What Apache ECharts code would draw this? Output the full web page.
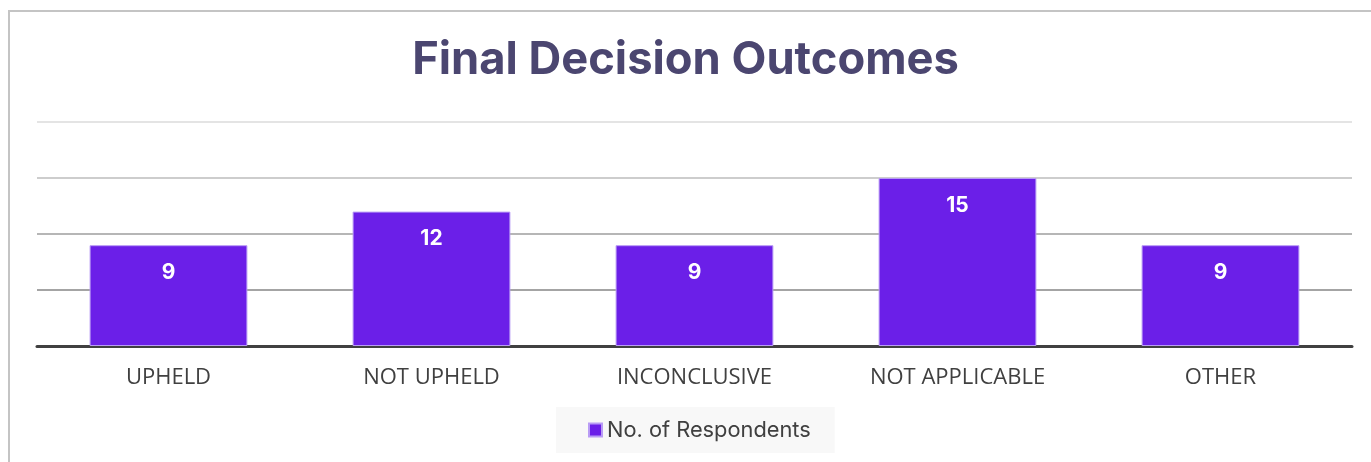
<!DOCTYPE html>
<html>
<head>
<meta charset="utf-8">
<script src="https://cdn.jsdelivr.net/npm/echarts@6/dist/echarts.min.js"></script>
<style>
  html, body { margin: 0; padding: 0; background: #ffffff; }
  #frame { position: absolute; left: 8px; top: 10px; width: 1363px; height: 452px;
           border-left: 2px solid #c4c4c4; border-top: 2px solid #c4c4c4; box-sizing: border-box; }
  #chart { position: absolute; left: 0; top: 0; width: 1371px; height: 462px; }
</style>
</head>
<body>
<div id="frame"></div>
<div id="chart"></div>
<script>
// Final decision outcomes — respondents per outcome
const categories = ['UPHELD', 'NOT UPHELD', 'INCONCLUSIVE', 'NOT APPLICABLE', 'OTHER'];
const respondents = [9, 12, 9, 15, 9];
const seriesName = 'No. of Respondents';
const chartTitle = 'Final Decision Outcomes';

const chart = echarts.init(document.getElementById('chart'), null, { renderer: 'canvas' });

chart.setOption({
  backgroundColor: 'transparent',
  animation: false,
  title: {
    text: chartTitle,
    left: 'center',
    top: 33,
    textStyle: { fontFamily: 'Inter', fontWeight: 700, fontSize: 45.3, color: '#4b4670' }
  },
  legend: {
    data: [seriesName],
    bottom: 9,
    left: 556,
    padding: [12, 24, 12, 32],
    backgroundColor: '#f8f8f8',
    itemWidth: 13,
    itemHeight: 13,
    itemGap: 6,
    icon: 'rect',
    textStyle: { fontFamily: 'Inter', fontSize: 21.8, color: '#404040' }
  },
  grid: { left: 37, right: 19, top: 122, height: 224, containLabel: false },
  xAxis: {
    type: 'category',
    data: categories,
    axisTick: { show: false },
    axisLine: { show: true, lineStyle: { color: '#404040', width: 3 } },
    axisLabel: { margin: 21, fontFamily: 'Open Sans', fontSize: 22, color: '#404040' }
  },
  yAxis: {
    type: 'value',
    min: 0,
    max: 20,
    interval: 5,
    axisLabel: { show: false },
    axisLine: { show: false },
    axisTick: { show: false },
    splitLine: {
      show: true,
      lineStyle: { width: 2, color: ['#ffffff', '#a4a4a4', '#b6b6b6', '#cdcdcd', '#e4e4e4'] }
    }
  },
  series: [{
    name: seriesName,
    type: 'bar',
    data: respondents,
    barWidth: '60%',
    itemStyle: { color: '#6b1fe8', borderColor: '#b99cf5', borderWidth: 1 },
    label: {
      show: true,
      position: 'insideTop',
      distance: 17,
      fontFamily: 'Inter',
      fontWeight: 700,
      fontSize: 21,
      color: '#ffffff'
    }
  }]
});
</script>
</body>
</html>
